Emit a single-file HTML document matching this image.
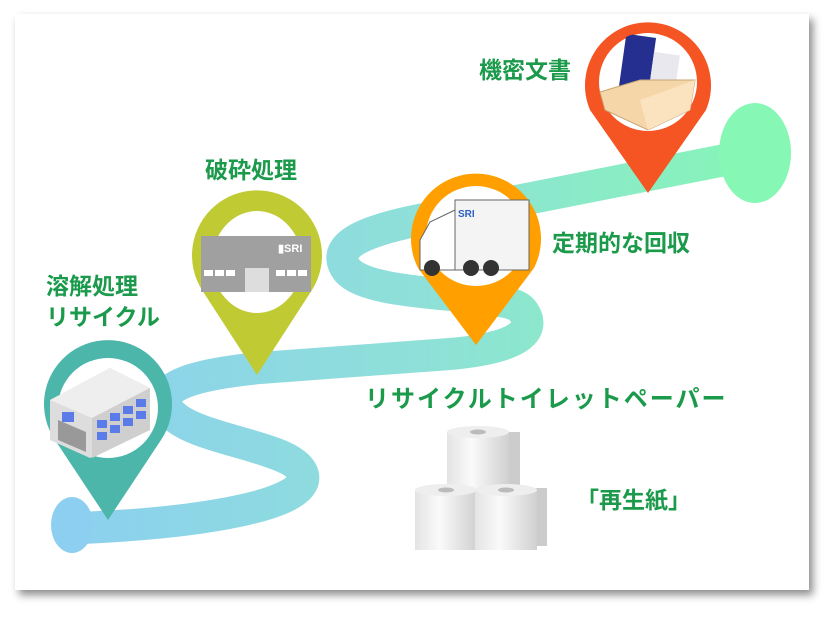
<!DOCTYPE html>
<html><head><meta charset="utf-8"><style>
body{margin:0;width:836px;height:618px;background:#fff;overflow:hidden;font-family:"Liberation Sans","Noto Sans CJK JP",sans-serif}
.card{position:absolute;left:15px;top:14px;width:794px;height:576px;background:#fff;box-shadow:4px 5px 8px rgba(0,0,0,.45)}
.t{position:absolute;color:#1a9a4a;font-weight:bold;white-space:nowrap;font-family:"Noto Sans CJK JP",sans-serif;line-height:1}
svg{position:absolute;left:0;top:0}
</style></head><body>
<div class="card"></div>
<svg width="836" height="618" viewBox="0 0 836 618">
<defs>
<linearGradient id="rg" x1="50" y1="0" x2="790" y2="0" gradientUnits="userSpaceOnUse">
<stop offset="0" stop-color="#8ccff0"/><stop offset="0.5" stop-color="#8ee0d8"/><stop offset="1" stop-color="#86f7b4"/></linearGradient>
<linearGradient id="roll" x1="0" x2="1"><stop offset="0" stop-color="#e4e4e4"/><stop offset=".4" stop-color="#fafafa"/><stop offset="1" stop-color="#d0d0d0"/></linearGradient>
<clipPath id="cr"><circle cx="648" cy="82" r="50"/></clipPath>
</defs>
<path d="M80,528 C200,523 310,505 303,475 C296,445 195,442 170,412 C150,385 200,374 260,368 L450,354 C520,348 538,330 522,310 C505,290 372,300 347,270 C325,240 385,226 440,216 L725,160" fill="none" stroke="url(#rg)" stroke-width="32" stroke-linejoin="round"/>
<ellipse cx="72" cy="525" rx="21" ry="28" fill="#8ccff0"/>
<ellipse cx="755" cy="153" rx="36" ry="50" fill="#86f7b4"/>
<g>
<path d="M108,520 L55,440 A64,64 0 1 1 161,440 Z" fill="#4db6aa"/>
<circle cx="108" cy="408" r="50" fill="#fff"/>
<polygon points="50,400 110,368 150,388 150,430 90,458 50,440" fill="#ddd"/>
<polygon points="50,400 110,368 150,388 92,418" fill="#eee"/>
<polygon points="92,418 150,388 150,430 92,458" fill="#cfcfcf"/>
<g fill="#5b7be8"><rect x="97" y="420" width="10" height="8"/><rect x="110" y="413" width="10" height="8"/><rect x="123" y="406" width="10" height="8"/><rect x="136" y="399" width="10" height="8"/><rect x="97" y="432" width="10" height="8"/><rect x="110" y="425" width="10" height="8"/><rect x="123" y="418" width="10" height="8"/><rect x="136" y="411" width="10" height="8"/><rect x="62" y="412" width="12" height="10"/></g>
<polygon points="58,420 86,432 86,452 58,440" fill="#999"/>
</g>
<g>
<path d="M257,375 L202,290 A65,65 0 1 1 312,290 Z" fill="#c0ca33"/>
<ellipse cx="257" cy="262" rx="45" ry="51" fill="#fff"/>
<rect x="201" y="236" width="110" height="56" fill="#a0a0a0"/>
<g fill="#fff"><rect x="204" y="270" width="9" height="6"/><rect x="215" y="270" width="9" height="6"/><rect x="226" y="270" width="9" height="6"/><rect x="276" y="270" width="9" height="6"/><rect x="287" y="270" width="9" height="6"/><rect x="298" y="270" width="9" height="6"/></g>
<rect x="245" y="268" width="24" height="24" fill="#ddd"/>
<text x="278" y="252" font-family="Liberation Sans" font-size="11" fill="#fff" font-weight="bold">▮SRI</text>
</g>
<g>
<path d="M476,345 L418,268 A65,65 0 1 1 534,268 Z" fill="#ff9f00"/>
<circle cx="476" cy="236" r="50" fill="#fff"/>
<rect x="455" y="200" width="74" height="70" fill="#f4f4f4" stroke="#666"/>
<path d="M455,210 L430,222 L420,240 L420,270 L455,270 Z" fill="#fff" stroke="#666"/>
<circle cx="432" cy="268" r="8" fill="#333"/><circle cx="471" cy="268" r="8" fill="#333"/><circle cx="491" cy="268" r="8" fill="#333"/>
<text x="458" y="217" font-family="Liberation Sans" font-size="10" fill="#2d5fc9" font-weight="bold">SRI</text>
</g>
<g>
<path d="M648,193 L590,110 A63,63 0 1 1 706,110 Z" fill="#f55522"/>
<circle cx="648" cy="82" r="49" fill="#fff"/>
<g clip-path="url(#cr)">
<rect x="622" y="36" width="30" height="60" fill="#242f8f" transform="rotate(8 640 66)"/>
<rect x="652" y="50" width="26" height="40" fill="#e8e8ee" transform="rotate(8 640 66)"/>
</g>
<polygon points="600,92 640,80 695,80 690,110 648,130 605,110" fill="#f5d6a8" stroke="#c9a775"/>
<polygon points="640,100 695,80 690,110 648,130" fill="#fbe3c0"/>
</g>
<g>
<rect x="508" y="432" width="12" height="60" fill="#ccc"/>
<rect x="447" y="432" width="62" height="65" fill="url(#roll)"/>
<ellipse cx="478" cy="432" rx="31" ry="6" fill="#eee"/><ellipse cx="478" cy="432" rx="8" ry="2.5" fill="#bbb"/>
<rect x="535" y="488" width="12" height="58" fill="#ccc"/>
<rect x="415" y="490" width="62" height="60" fill="url(#roll)"/>
<ellipse cx="446" cy="490" rx="31" ry="6" fill="#eee"/><ellipse cx="446" cy="490" rx="8" ry="2.5" fill="#bbb"/>
<rect x="475" y="490" width="62" height="60" fill="url(#roll)"/>
<ellipse cx="506" cy="490" rx="31" ry="6" fill="#eee"/><ellipse cx="506" cy="490" rx="8" ry="2.5" fill="#bbb"/>
</g>
</svg>
<div class="t" style="left:479px;top:57px;font-size:23px">機密文書</div>
<div class="t" style="left:205px;top:157px;font-size:23px">破砕処理</div>
<div class="t" style="left:46px;top:273px;font-size:23px">溶解処理</div>
<div class="t" style="left:46px;top:304px;font-size:23px">リサイクル</div>
<div class="t" style="left:552px;top:230px;font-size:23px">定期的な回収</div>
<div class="t" style="left:365px;top:385px;font-size:24px;letter-spacing:2px">リサイクルトイレットペーパー</div>
<div class="t" style="left:576px;top:487px;font-size:23px">「再生紙」</div>
</body></html>
